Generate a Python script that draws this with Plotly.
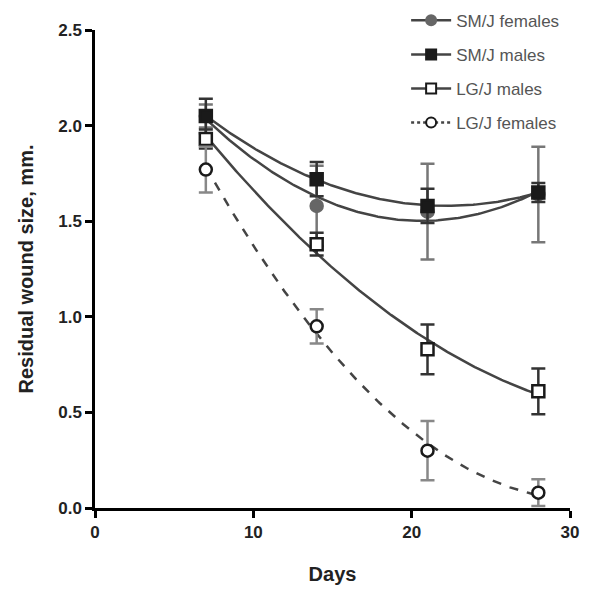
import numpy as np
import plotly.graph_objects as go

days = [7, 14, 21, 28]

smj_f = [2.05, 1.58, 1.55, 1.64]
smj_f_err = [0.06, 0.21, 0.25, 0.25]
smj_m = [2.05, 1.72, 1.58, 1.65]
smj_m_err = [0.09, 0.09, 0.09, 0.05]
lgj_m = [1.93, 1.38, 0.83, 0.61]
lgj_m_err = [0.05, 0.06, 0.13, 0.12]
lgj_f = [1.77, 0.95, 0.30, 0.08]
lgj_f_err = [0.12, 0.09, 0.155, 0.07]

series = [
    dict(name="SM/J females", y=smj_f, e=smj_f_err, symbol="circle", mcolor="#666666",
         mline="#666666", ecolor="#777777", dash="solid"),
    dict(name="SM/J males", y=smj_m, e=smj_m_err, symbol="square", mcolor="#1a1a1a",
         mline="#1a1a1a", ecolor="#333333", dash="solid"),
    dict(name="LG/J males", y=lgj_m, e=lgj_m_err, symbol="square", mcolor="white",
         mline="#1a1a1a", ecolor="#333333", dash="solid"),
    dict(name="LG/J females", y=lgj_f, e=lgj_f_err, symbol="circle", mcolor="white",
         mline="#1a1a1a", ecolor="#888888", dash="dash"),
]

line_color = "#444444"
fig = go.Figure()
xs = np.linspace(7, 28, 200)

for s in series:
    coef = np.polyfit(days, s["y"], 2)
    fig.add_trace(go.Scatter(x=xs, y=np.polyval(coef, xs), mode="lines",
                             line=dict(color=line_color, width=2.5, dash=s["dash"]),
                             showlegend=False, hoverinfo="skip"))

for s in series:
    fig.add_trace(go.Scatter(
        x=days, y=s["y"], mode="markers", showlegend=False,
        marker=dict(symbol=s["symbol"], size=12, color=s["mcolor"],
                    line=dict(color=s["mline"], width=2.5)),
        error_y=dict(type="data", array=s["e"], color=s["ecolor"], thickness=2.5, width=7),
    ))

for i, s in enumerate(series):
    fig.add_trace(go.Scatter(
        x=[None], y=[None], mode="lines+markers", name=s["name"], legendgroup=f"g{i}",
        line=dict(color=line_color, width=2.5, dash="dot" if s["dash"] == "dash" else "solid"),
        marker=dict(symbol=s["symbol"], size=10, color=s["mcolor"],
                    line=dict(color=s["mline"], width=2)),
    ))

axis_common = dict(showline=True, linecolor="black", linewidth=2.5, ticks="outside",
                   tickwidth=2.5, ticklen=7, tickcolor="black", showgrid=False, zeroline=False,
                   automargin=False,
                   tickfont=dict(family="Liberation Sans, Arial", size=17, color="#222222", weight="bold"))

fig.update_layout(
    width=601, height=595,
    margin=dict(l=87, r=39, t=22, b=95, autoexpand=False),
    paper_bgcolor="white", plot_bgcolor="white",
    font=dict(family="Liberation Sans, Arial", color="#222222"),
    xaxis=dict(range=[0, 30], tickvals=[0, 10, 20, 30], **axis_common,
               title=dict(text="Days", font=dict(size=20, color="#222222", weight="bold"), standoff=26)),
    yaxis=dict(range=[0, 2.5], tickvals=[0, 0.5, 1.0, 1.5, 2.0, 2.5], tickformat=".1f", **axis_common,
               title=dict(text="Residual wound size, mm.", font=dict(size=20, color="#222222", weight="bold"), standoff=20)),
    legend=dict(x=0.655, y=1.057, xanchor="left", yanchor="top",
                bgcolor="rgba(0,0,0,0)", font=dict(size=17, color="#555555"),
                tracegroupgap=9, itemwidth=40),
)

fig.write_html("out.html")
